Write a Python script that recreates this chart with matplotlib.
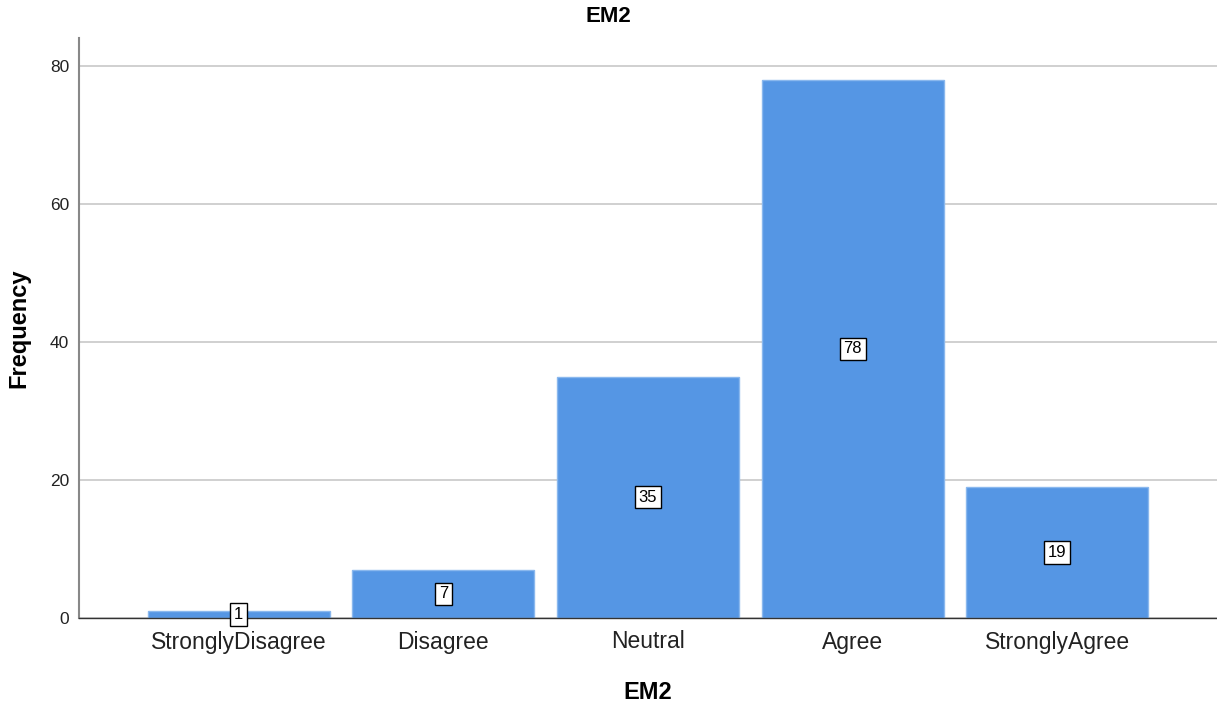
import matplotlib
matplotlib.use("Agg")
import matplotlib.pyplot as plt

plt.rcParams["font.family"] = ["Liberation Sans", "DejaVu Sans"]

categories = ["StronglyDisagree", "Disagree", "Neutral", "Agree", "StronglyAgree"]
counts = [1, 7, 35, 78, 19]
yticks = [0, 20, 40, 60, 80]

fig = plt.figure(figsize=(12.17, 7.02), dpi=100)
ax = fig.add_axes([79 / 1217, 1 - 618 / 702, (1217 - 79) / 1217, (618 - 38) / 702])

x = list(range(len(categories)))
ax.bar(x, counts, width=0.89, color="#5596e4", edgecolor="#8ab8ee", linewidth=1, zorder=2)

# valeurs au milieu des barres
for xi, v in zip(x, counts):
    ax.text(xi, v / 2, str(v), ha="center", va="center", fontsize=12, zorder=3,
            bbox=dict(boxstyle="square,pad=0.22", facecolor="white", edgecolor="black", linewidth=1))

ax.set_xlim(-0.78, 4.78)
ax.set_ylim(0, 84.06)
ax.set_yticks(yticks)
ax.set_xticks(x)
ax.set_xticklabels(categories, fontsize=16.5, color="#222222")
ax.tick_params(axis="y", labelsize=12.5, length=0, pad=7, colors="#222222")
ax.tick_params(axis="x", length=0, pad=9)
ax.yaxis.grid(True, color="#c8c8c8", linewidth=1.2, zorder=0)
ax.set_axisbelow(True)

for s in ["top", "right"]:
    ax.spines[s].set_visible(False)
ax.spines["left"].set_color("#888888")
ax.spines["left"].set_linewidth(1.5)
ax.spines["bottom"].set_color("#333333")
ax.spines["bottom"].set_linewidth(1)

ax.set_ylabel("Frequency", fontsize=17, fontweight="bold", labelpad=14)
ax.set_xlabel("EM2", fontsize=17, fontweight="bold", labelpad=20)
fig.text(0.5, 1 - 17 / 702, "EM2", ha="center", va="center", fontsize=16, fontweight="bold")

fig.savefig("out.png", dpi=100)
